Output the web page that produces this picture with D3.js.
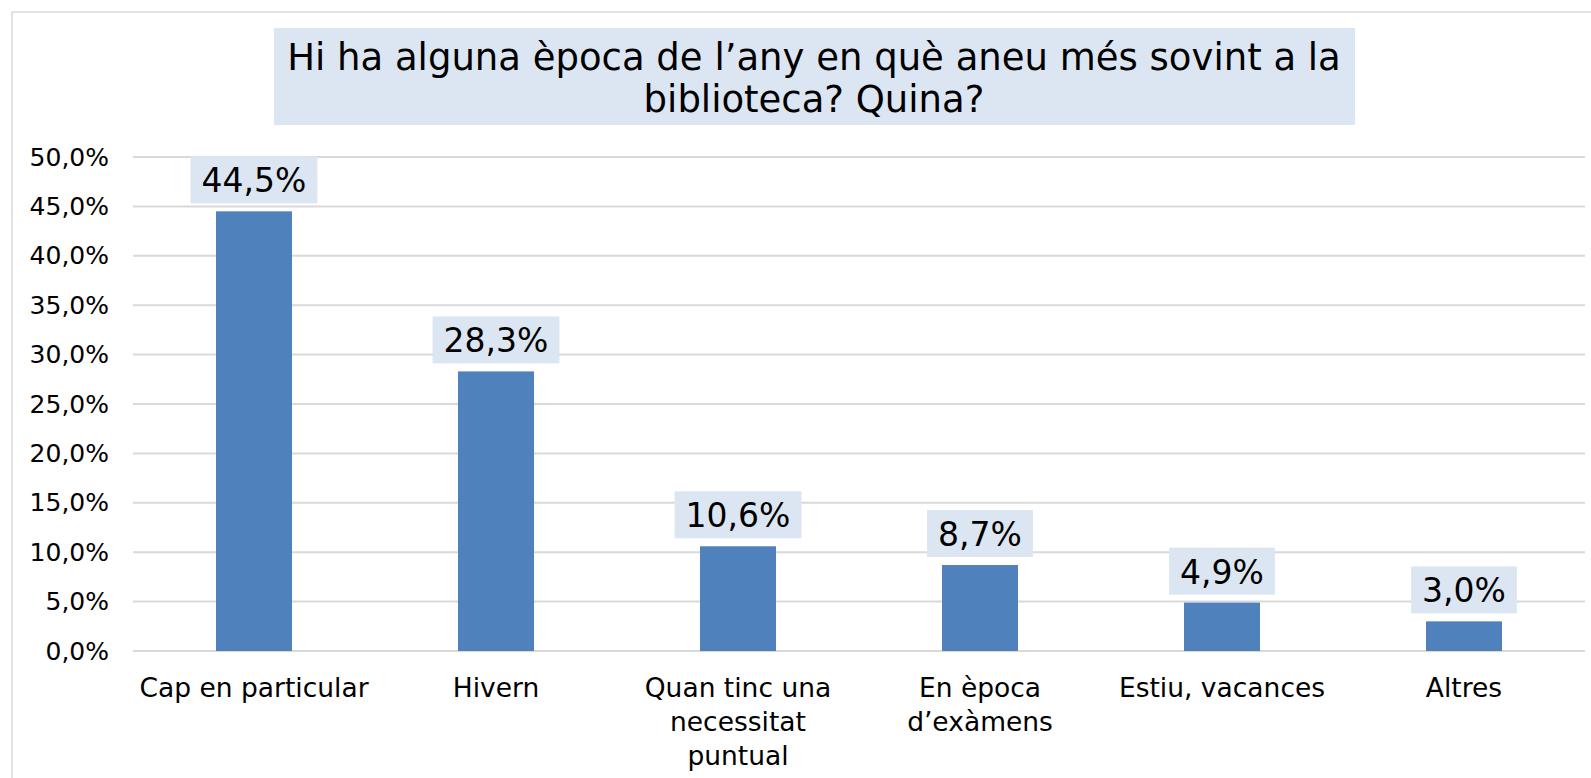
<!DOCTYPE html>
<html>
<head>
<meta charset="utf-8">
<script src="https://cdn.jsdelivr.net/npm/d3@7"></script>
<style>
  body { margin: 0; background: #fff; }
  text { font-family: "DejaVu Sans", Verdana, sans-serif; fill: #000; }
</style>
</head>
<body>
<div id="chart"></div>
<script>
// chart data
var categories = ['Cap en particular', 'Hivern', 'Quan tinc una necessitat puntual', 'En època d’exàmens', 'Estiu, vacances', 'Altres'];
var labelLines = [['Cap en particular'], ['Hivern'], ['Quan tinc una', 'necessitat', 'puntual'], ['En època', 'd’exàmens'], ['Estiu, vacances'], ['Altres']];
var values = [0.445, 0.283, 0.106, 0.087, 0.049, 0.030];
var yTicks = [0, 0.05, 0.10, 0.15, 0.20, 0.25, 0.30, 0.35, 0.40, 0.45, 0.50];
var titleLines = ['Hi ha alguna època de l’any en què aneu més sovint a la', 'biblioteca? Quina?'];

const W = 1591, H = 778;
const plotLeft = 133, plotRight = 1585, plotTop = 157, plotBottom = 651;

var fmt = function(v){ return d3.format('.1%')(v).replace('.', ','); };

var svg = d3.select('#chart').append('svg')
  .attr('width', W).attr('height', H);

// outer chart border
svg.append('rect')
  .attr('x', 12).attr('y', 12)
  .attr('width', W + 10).attr('height', H + 10)
  .attr('fill', 'none').attr('stroke', '#d9d9d9').attr('stroke-width', 1.5);

// title box
svg.append('rect')
  .attr('x', 274).attr('y', 28).attr('width', 1081).attr('height', 97)
  .attr('fill', '#dce6f2');
svg.append('g').selectAll('text')
  .data(titleLines)
  .enter().append('text')
  .attr('x', 814)
  .attr('y', (d, i) => 70 + i * 42)
  .attr('text-anchor', 'middle')
  .style('font-size', '37px')
  .text(d => d);

var x = d3.scaleBand()
  .domain(categories)
  .range([plotLeft, plotRight])
  .paddingInner(0.686)
  .paddingOuter(0.343);

var y = d3.scaleLinear()
  .domain([0, 0.5])
  .range([plotBottom, plotTop]);

// gridlines
svg.append('g').selectAll('line')
  .data(yTicks)
  .enter().append('line')
  .attr('x1', plotLeft).attr('x2', plotRight)
  .attr('y1', d => y(d)).attr('y2', d => y(d))
  .attr('stroke', '#d9d9d9').attr('stroke-width', 2);

// y axis labels
var yAxis = d3.axisLeft(y).tickValues(yTicks).tickFormat(fmt).tickSize(0).tickPadding(0);
var yG = svg.append('g').attr('transform', 'translate(109,0)').call(yAxis);
yG.select('.domain').remove();
yG.selectAll('text')
  .style('font-size', '25px')
  .style('font-family', '"DejaVu Sans", Verdana, sans-serif')
  .attr('fill', '#000');

// bars
svg.append('g').selectAll('rect')
  .data(values)
  .enter().append('rect')
  .attr('x', (d, i) => x(categories[i]))
  .attr('y', d => y(d))
  .attr('width', x.bandwidth())
  .attr('height', d => plotBottom - y(d))
  .attr('fill', '#4f81bd');

// data labels with boxes
var lab = svg.append('g').selectAll('g')
  .data(values)
  .enter().append('g')
  .attr('transform', (d, i) => 'translate(' + (x(categories[i]) + x.bandwidth() / 2) + ',' + (y(d) - 8) + ')');

lab.append('text')
  .attr('text-anchor', 'middle')
  .attr('y', -11)
  .style('font-size', '33px')
  .text(d => fmt(d));

lab.each(function(){
  var g = d3.select(this);
  var w = g.select('text').node().getComputedTextLength() + 22;
  g.insert('rect', 'text')
    .attr('x', -w / 2).attr('y', -47)
    .attr('width', w).attr('height', 47)
    .attr('fill', '#dce6f2');
});

// category labels
var xl = svg.append('g').selectAll('text')
  .data(labelLines)
  .enter().append('text')
  .attr('text-anchor', 'middle')
  .attr('x', (d, i) => x(categories[i]) + x.bandwidth() / 2)
  .attr('y', 697)
  .style('font-size', '26.5px');

xl.selectAll('tspan')
  .data(d => d)
  .enter().append('tspan')
  .attr('x', function(){ return d3.select(this.parentNode).attr('x'); })
  .attr('dy', (d, i) => i === 0 ? 0 : 34)
  .text(d => d);
</script>
</body>
</html>
